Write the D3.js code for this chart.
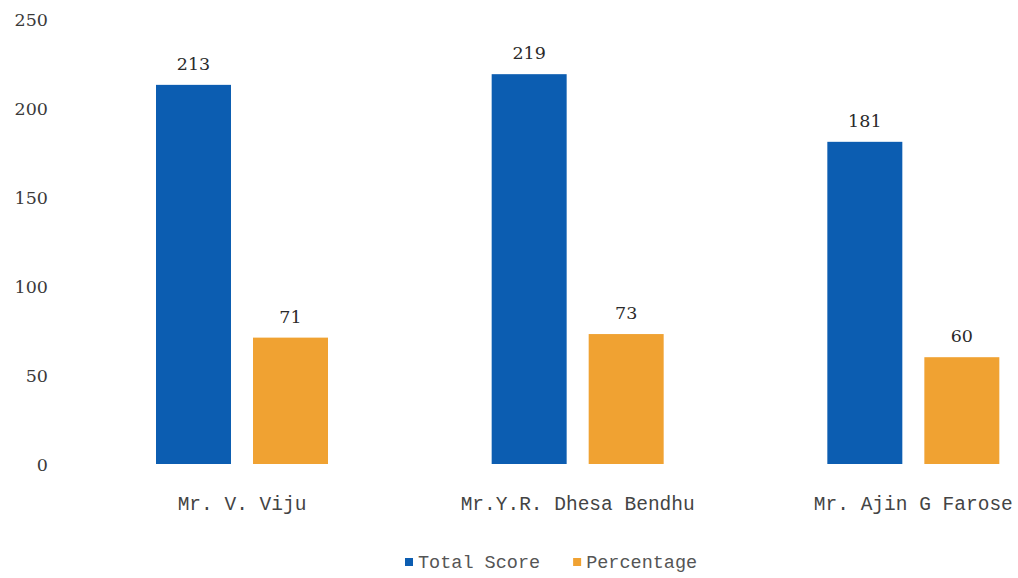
<!DOCTYPE html>
<html>
<head>
<meta charset="utf-8">
<script src="https://cdn.jsdelivr.net/npm/d3@7/dist/d3.min.js"></script>
<style>
  html, body { margin: 0; padding: 0; background: #fff; }
  svg { display: block; }
</style>
</head>
<body>
<svg id="chart" width="1018" height="578"></svg>
<script>
const categories = ["Mr. V. Viju", "Mr.Y.R. Dhesa Bendhu", "Mr. Ajin G Farose"];
const series = ["Total Score", "Percentage"];
const totalScore = [213, 219, 181];
const percentage = [71, 73, 60];
const yTicks = [0, 50, 100, 150, 200, 250];
const colors = ["#0C5DB1", "#F0A232"];

const values = [totalScore, percentage];
const data = categories.map((c, i) => ({
  category: c,
  bars: series.map((s, j) => ({ series: s, value: values[j][i], color: colors[j] }))
}));

const svg = d3.select("#chart");

const x0 = d3.scaleBand().domain(categories).range([74, 1081]).padding(0);
const x1 = d3.scaleBand().domain(series).range([82, 254]).paddingInner(0.227).paddingOuter(0);
const y = d3.scaleLinear().domain([0, 250]).range([464, 19]);

// Y axis
const yAxis = svg.append("g")
  .attr("transform", "translate(48,0)")
  .call(d3.axisLeft(y).tickValues(yTicks).tickSize(0).tickPadding(0));
yAxis.select(".domain").remove();
yAxis.selectAll("text")
  .attr("font-family", "'DejaVu Serif', serif")
  .attr("font-size", 17.5)
  .attr("fill", "#3a3a3a")
  .attr("dy", "0.36em");

// Bars
const groups = svg.append("g").selectAll("g")
  .data(data)
  .join("g")
  .attr("transform", d => `translate(${x0(d.category)},0)`);

groups.selectAll("rect")
  .data(d => d.bars)
  .join("rect")
  .attr("x", d => x1(d.series))
  .attr("width", x1.bandwidth())
  .attr("y", d => y(d.value))
  .attr("height", d => y(0) - y(d.value))
  .attr("fill", d => d.color);

groups.selectAll("text.val")
  .data(d => d.bars)
  .join("text")
  .attr("class", "val")
  .attr("x", d => x1(d.series) + x1.bandwidth() / 2)
  .attr("y", d => y(d.value) - 15)
  .attr("text-anchor", "middle")
  .attr("font-family", "'DejaVu Serif', serif")
  .attr("font-size", 17.5)
  .attr("fill", "#2a2a2a")
  .text(d => d.value);

// Category labels
const xAxis = svg.append("g")
  .attr("transform", "translate(0,464)")
  .call(d3.axisBottom(x0).tickSize(0).tickPadding(0));
xAxis.select(".domain").remove();
xAxis.selectAll(".tick")
  .attr("transform", d => `translate(${x0(d) + 82 + (254 - 82) / 2},0)`);
xAxis.selectAll("text")
  .attr("font-family", "'Liberation Mono', monospace")
  .attr("font-size", 19.5)
  .attr("fill", "#444")
  .attr("dy", 0)
  .attr("y", 46);

// Legend
const legend = svg.append("g");
let lx = 405;
series.forEach((s, j) => {
  legend.append("rect")
    .attr("x", lx).attr("y", 558).attr("width", 8).attr("height", 8)
    .attr("fill", colors[j]);
  const t = legend.append("text")
    .attr("x", lx + 13).attr("y", 568)
    .attr("font-family", "'Liberation Mono', monospace")
    .attr("font-size", 18.5)
    .attr("fill", "#555")
    .text(s);
  lx = lx + 13 + t.node().getComputedTextLength() + 33;
});
</script>
</body>
</html>
